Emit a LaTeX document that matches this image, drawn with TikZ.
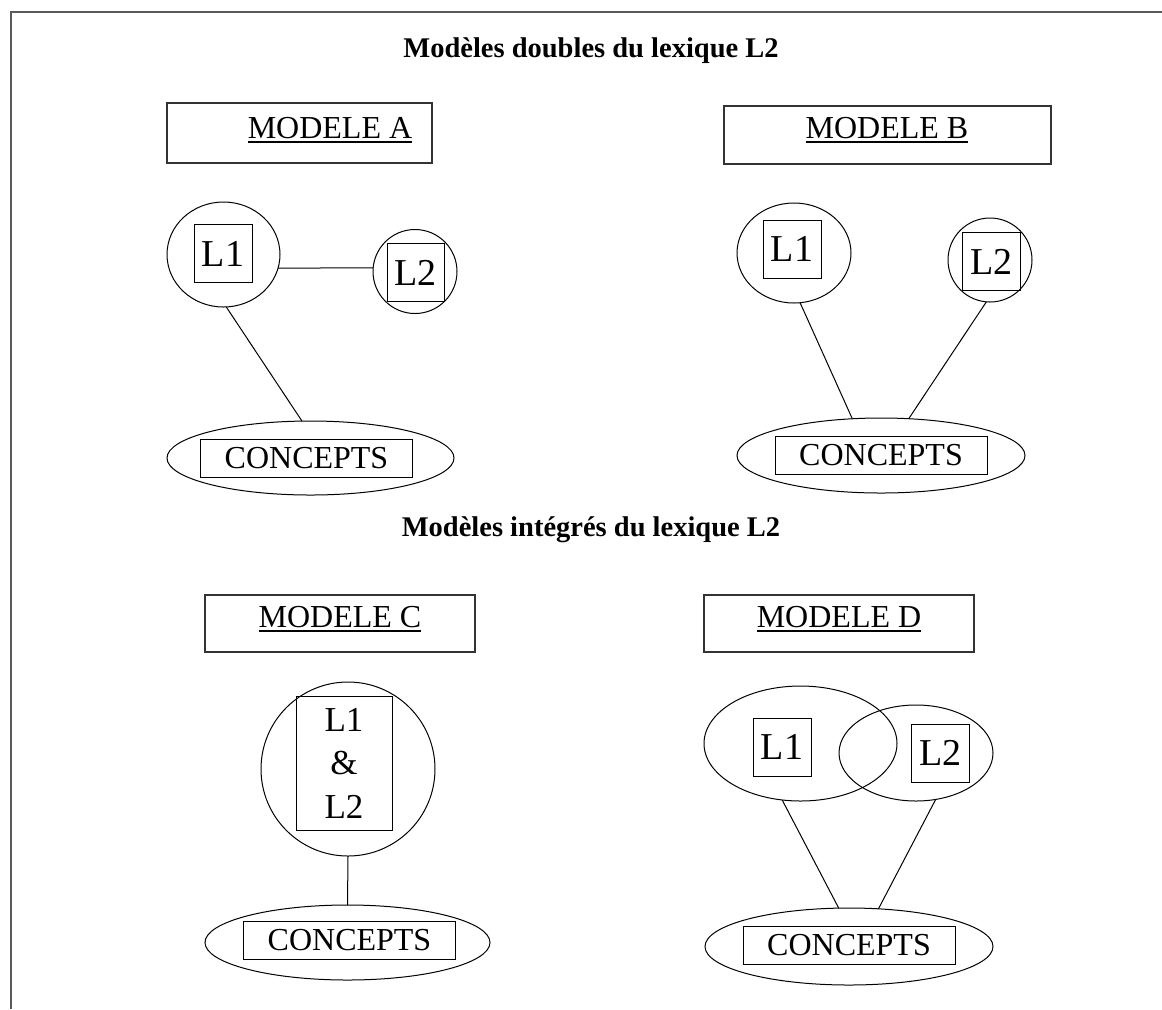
\documentclass[tikz,border=0pt]{standalone}
\usepackage{fontspec}
\setmainfont{Liberation Serif}
\usetikzlibrary{shapes.geometric}
\newcommand{\undl}[1]{\setbox0\hbox{#1}\rlap{\rule[-2.6pt]{\wd0}{0.9pt}}\box0}

\begin{document}
\begin{tikzpicture}[x=0.5pt, y=-0.5pt, line width=0.5pt,
  every node/.style={inner sep=0pt, outer sep=0pt},
  lbl/.style={font=\fontsize{16}{21.75}\selectfont},
  big/.style={font=\fontsize{19}{23}\selectfont},
  ttl/.style={font=\fontsize{14.25}{17}\selectfont\bfseries, anchor=base},
  modbox/.style={draw=black!80, line width=0.6pt},
  frame/.style={draw=black!65, line width=0.7pt},
  sq/.style={draw, big, minimum width=29pt, minimum height=29pt},
  ring/.style={draw, ellipse},
  ccbox/.style={draw, lbl, minimum width=106pt, minimum height=19pt}]
      \useasboundingbox (0,0) rectangle (1162,1009);
      % Frame and titles:
      \draw[frame] (11,1009) -- (11,12) -- (1162,12);
      \node[ttl] (T1) at (591,57) {Modèles doubles du lexique L2};
      \node[ttl] (T2) at (591,536) {Modèles intégrés du lexique L2};
      % Model A:
      \node[modbox, minimum width=132.5pt, minimum height=30pt] (MA) at (299.5,133) {};
      \node[lbl, anchor=base] (MAt) at (330,138) {\undl{MODELE A}};
      \node[ring, minimum width=56.5pt, minimum height=52.5pt] (L1a) at (223.5,254.5) {};
      \node[sq] (L1aq) at (223,253.5) {L1};
      \node[ring, minimum size=42pt] (L2a) at (415,271.5) {};
      \node[sq, minimum width=28.5pt] (L2aq) at (415.5,272.5) {L2};
      \node[ring, minimum width=143.5pt, minimum height=37pt] (CCa) at (310.5,458) {};
      \node[ccbox] (CCaq) at (306.5,458) {CONCEPTS};
      \draw (L1a.-14) -- (L2a.175);
      \draw (L1a.-87) -- (CCa.103);
      % Model B:
      \node[modbox, minimum width=163.5pt, minimum height=29pt] (MB) at (887.5,135) {};
      \node[lbl, anchor=base] (MBt) at (887,138) {\undl{MODELE B}};
      \node[ring, minimum width=57pt, minimum height=50pt] (L1b) at (794,253) {};
      \node[sq] (L1bq) at (792,249) {L1};
      \node[ring, minimum size=42pt] (L2b) at (990,260) {};
      \node[sq] (L2bq) at (991.5,261.5) {L2};
      \node[ring, minimum width=144pt, minimum height=37.5pt] (CCb) at (881,455.5) {};
      \node[ccbox] (CCbq) at (881,455) {CONCEPTS};
      \draw (L1b.-83) -- (CCb.128);
      \draw (L2b.-95) -- (CCb.53);
      % Model C:
      \node[modbox, minimum width=135pt, minimum height=28.5pt] (MC) at (340,623.5) {};
      \node[lbl, anchor=base] (MCt) at (340,627) {\undl{MODELE C}};
      \node[ring, minimum size=87pt] (L12c) at (348,769) {};
      \node[sq, font=\fontsize{17.5}{21.75}\selectfont, minimum width=48pt, minimum height=67pt, align=center] (L12cq) at (344,763) {L1\\\&\\L2};
      \node[ring, minimum width=142.5pt, minimum height=37.5pt] (CCc) at (347.5,942.5) {};
      \node[ccbox] (CCcq) at (349.5,940.5) {CONCEPTS};
      \draw (L12c.south) -- (CCc.north);
      % Model D:
      \node[modbox, minimum width=135pt, minimum height=28.5pt] (MD) at (839,623.5) {};
      \node[lbl, anchor=base] (MDt) at (839,627) {\undl{MODELE D}};
      \node[ring, minimum width=96.5pt, minimum height=57.5pt] (L1d) at (800.5,743.5) {};
      \node[ring, minimum width=77pt, minimum height=48pt] (L2d) at (916,753) {};
      \node[sq] (L1dq) at (782,747) {L1};
      \node[sq] (L2dq) at (940.5,753) {L2};
      \node[ring, minimum width=144pt, minimum height=38.5pt] (CCd) at (849,946.5) {};
      \node[ccbox] (CCdq) at (849,945.5) {CONCEPTS};
      \draw (L1d.-108) -- (CCd.105);
      \draw (L2d.-67) -- (CCd.52);
\end{tikzpicture}
\end{document}
